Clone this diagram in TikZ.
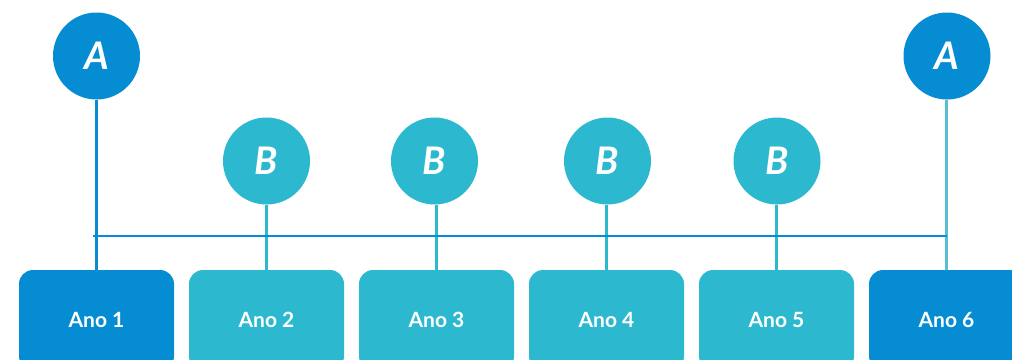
\documentclass[tikz,border=0pt]{standalone}
\usepackage{fontspec}
\setmainfont{Lato}
\usetikzlibrary{positioning}
\definecolor{anoblue}{HTML}{058CD3}
\definecolor{anoteal}{HTML}{2CB8CE}
\definecolor{stemteal}{HTML}{58BDD4}

\begin{document}
\begin{tikzpicture}[x=1pt,y=-1pt,
    anobox/.style={fill=#1, text=white, rounded corners=14pt, inner sep=0pt,
      minimum width=155pt, minimum height=100pt,
      font=\bfseries\fontsize{21}{24}\selectfont},
    letter/.style={circle, fill=#1, text=white, inner sep=0pt, minimum size=87pt,
      font=\bfseries\itshape\fontsize{38}{40}\selectfont},
    stem/.style={draw=#1, line width=3.3pt}]
  \clip (0,0) rectangle (1012,359);

  % years along the bottom
  \node[anobox=anoblue] (ano1) at (96.5,320) {Ano 1};
  \node[anobox=anoteal] (ano2) at (266.5,320) {Ano 2};
  \node[anobox=anoteal] (ano3) at (436.5,320) {Ano 3};
  \node[anobox=anoteal] (ano4) at (606.5,320) {Ano 4};
  \node[anobox=anoteal] (ano5) at (776.5,320) {Ano 5};
  \node[anobox=anoblue] (ano6) at (946.5,320) {Ano 6};

  % A and B markers
  \node[letter=anoblue] (a1) at (96.5,56) {A};
  \node[letter=anoteal] (b2) at (266.5,161) {B};
  \node[letter=anoteal] (b3) at (434.5,161) {B};
  \node[letter=anoteal] (b4) at (607.5,161) {B};
  \node[letter=anoteal] (b5) at (777,161) {B};
  \node[letter=anoblue] (a6) at (947,56) {A};

  \draw[stem=anoblue] (a1.south) -- (ano1.north);
  \draw[stem=anoteal] (ano2.north |- b2.south) -- (ano2.north);
  \draw[stem=anoteal] (ano3.north |- b3.south) -- (ano3.north);
  \draw[stem=anoteal] (ano4.north |- b4.south) -- (ano4.north);
  \draw[stem=anoteal] (ano5.north |- b5.south) -- (ano5.north);
  \draw[stem=stemteal] (ano6.north |- a6.south) -- (ano6.north);

  % time line
  \coordinate (start) at (93,236);
  \draw[anoblue, line width=1.3pt] (start) -- (start -| ano6);
\end{tikzpicture}
\end{document}
